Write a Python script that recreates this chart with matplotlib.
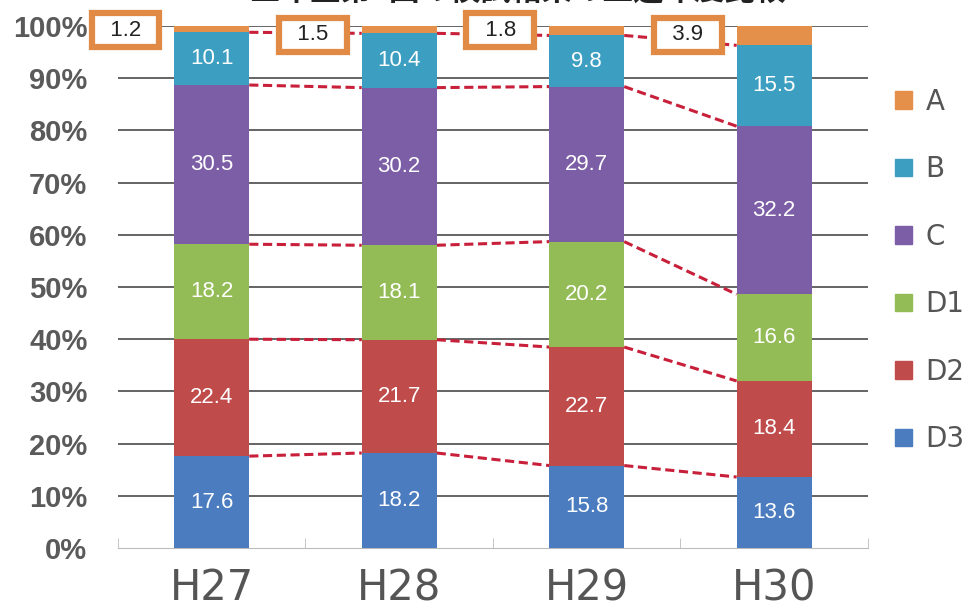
import matplotlib.pyplot as plt
import numpy as np
from matplotlib.patches import Patch

years = ["H27", "H28", "H29", "H30"]
levels = ["D3", "D2", "D1", "C", "B", "A"]
d3 = [17.6, 18.2, 15.8, 13.6]
d2 = [22.4, 21.7, 22.7, 18.4]
d1 = [18.2, 18.1, 20.2, 16.6]
c = [30.5, 30.2, 29.7, 32.2]
b = [10.1, 10.4, 9.8, 15.5]
a = [1.2, 1.5, 1.8, 3.9]
title = "三年生第1回の模試結果の上達年度比較"

colors = ["#4A7CBF", "#BF4B4B", "#94BC56", "#7C5EA6", "#3C9EC0", "#E5904A"]
series = [d3, d2, d1, c, b, a]

fig = plt.figure(figsize=(9.73, 6.11), dpi=100)
ax = fig.add_axes([0.1213, 0.1031, 0.7707, 0.8543])

x = np.arange(len(years))
width = 0.4
bottom = np.zeros(len(years))
tops = []
for vals, col, name in zip(series, colors, levels):
    vals = np.array(vals)
    ax.bar(x, vals, width, bottom=bottom, color=col, zorder=3, label=name)
    if name != "A":
        for xi, v, bt in zip(x, vals, bottom):
            ax.text(xi, bt + v / 2, "%.1f" % v, ha="center", va="center",
                    color="white", fontsize=16, family="Liberation Sans", zorder=4)
    bottom = bottom + vals
    tops.append(bottom.copy())

# dashed connectors between bars
for lev in tops[:5]:
    for i in range(len(years) - 1):
        ax.plot([x[i] + width / 2, x[i + 1] - width / 2], [lev[i], lev[i + 1]],
                color="#C8203A", lw=2.2, ls=(0, (3, 1.5)), zorder=2)

# A values in boxes
for xi, v in zip(x, a):
    ax.text(xi - 0.46, 99.2 if xi % 2 == 0 else 98.3, "  %.1f  " % v, ha="center", va="center",
            fontsize=16, family="Liberation Sans", color="#222", zorder=5,
            bbox=dict(boxstyle="square,pad=0.28", fc="white", ec="#E08A45", lw=4.5))

ax.set_xlim(-0.5, 3.5)
ax.set_ylim(0, 100)
ax.set_yticks(np.arange(0, 101, 10))
ax.set_yticklabels(["%d%%" % t for t in range(0, 101, 10)], fontsize=21,
                   family="Liberation Sans", fontweight="bold", color="#5a5a5a")
ax.set_xticks(x)
ax.set_xticklabels(years, fontsize=30, color="#555555")
ax.tick_params(axis="x", length=0, pad=14)
ax.tick_params(axis="y", length=0, pad=22)
ax.set_xticks([-0.5, 0.5, 1.5, 2.5, 3.5], minor=True)
ax.tick_params(axis="x", which="minor", direction="in", length=7, color="#bbbbbb")

for t in range(10, 101, 10):
    ax.axhline(t, color="#4a4a4a", lw=1.2, zorder=1)

for s in ["top", "right", "left"]:
    ax.spines[s].set_visible(False)
ax.spines["bottom"].set_color("#bbbbbb")

handles = [Patch(color=col, label=name) for col, name in zip(colors, levels)][::-1]
fig.legend(handles=handles, loc="upper left", bbox_to_anchor=(0.894, 0.897),
           frameon=False, fontsize=20, handlelength=0.6, handleheight=0.6,
           handletextpad=0.5, labelspacing=1.42, labelcolor="#555555")

fig.text(0.532, 1.0 + 9 / 611, title, ha="center", va="center", fontsize=22,
         family=["Noto Sans CJK JP", "DejaVu Sans"], fontweight="bold", color="#222")

fig.savefig("out.png", dpi=100)
